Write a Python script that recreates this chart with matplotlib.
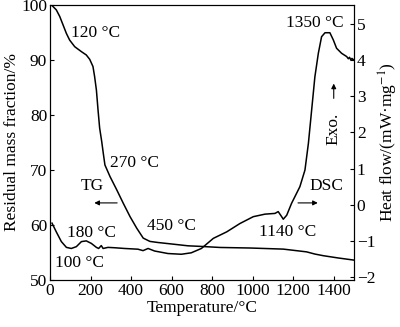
import matplotlib.pyplot as plt
import numpy as np

plt.rcParams['font.family'] = ['Liberation Serif', 'DejaVu Serif']
plt.rcParams['mathtext.fontset'] = 'stix'

# TG curve: temperature (°C) vs residual mass (%)
tg_temp = [0, 7, 31, 48, 64, 81, 97, 122, 155, 179, 196, 212, 220, 229, 237, 245, 255,
           263, 271, 296, 329, 362, 395, 428, 460, 493, 533, 608, 681, 740, 839, 987,
           1151, 1266, 1307, 1349, 1420, 1500]
tg_mass = [100, 100, 99.1, 97.9, 96.4, 94.8, 93.6, 92.4, 91.5, 90.9, 90.1, 88.8, 87.0,
           84.5, 80.9, 77.6, 75.2, 73.0, 70.9, 68.8, 66.4, 63.9, 61.5, 59.4, 57.6, 57.0,
           56.8, 56.5, 56.2, 56.1, 55.9, 55.8, 55.6, 55.1, 54.7, 54.4, 54.0, 53.6]

# DSC curve: temperature (°C) vs heat flow (mW/mg)
dsc_temp = [10, 31, 56, 81, 105, 130, 155, 179, 204, 229, 240, 253, 262, 270, 286, 319,
            368, 434, 459, 484, 516, 582, 648, 697, 747, 806, 872, 937, 1003, 1061, 1110,
            1126, 1143, 1151, 1168, 1192, 1217, 1233, 1258, 1275, 1291, 1307, 1324, 1340,
            1357, 1381, 1398, 1414, 1439, 1464, 1472, 1478, 1484, 1490, 1497, 1500]
dsc_flow = [-0.51, -0.75, -1.02, -1.18, -1.21, -1.16, -1.02, -1.00, -1.07, -1.18, -1.21,
            -1.13, -1.21, -1.20, -1.18, -1.19, -1.21, -1.23, -1.27, -1.21, -1.28, -1.35,
            -1.37, -1.33, -1.21, -0.93, -0.75, -0.52, -0.33, -0.26, -0.24, -0.19, -0.33,
            -0.40, -0.29, 0.04, 0.32, 0.50, 0.96, 1.70, 2.62, 3.54, 4.19, 4.65, 4.76, 4.76,
            4.56, 4.33, 4.19, 4.10, 4.04, 4.08, 4.01, 4.05, 4.00, 4.02]

fig = plt.figure(figsize=(4, 3.27), dpi=100)
ax = fig.add_axes([0.125, 0.144, 0.76, 0.841])
ax.plot(tg_temp, tg_mass, color='black', lw=1.1)
ax.set_xlim(0, 1500)
ax.set_ylim(50, 100)
ax.set_xticks(np.arange(0, 1500, 200))
ax.set_yticks(np.arange(50, 101, 10))
ax.tick_params(direction='in', labelsize=12.5, length=3, top=False, pad=2)
ax.set_xlabel('Temperature/°C', fontsize=12.5, labelpad=1)
ax.set_ylabel('Residual mass fraction/%', fontsize=12.5, labelpad=1)

ax2 = ax.twinx()
ax2.plot(dsc_temp, dsc_flow, color='black', lw=1.1)
ax2.set_ylim(-2.08, 5.53)
ax2.set_yticks(np.arange(-2, 6, 1))
ax2.set_yticklabels(['\u22122', '\u22121', '0', '1', '2', '3', '4', '5'])
ax2.tick_params(direction='in', labelsize=12.5, length=3, pad=2)
ax2.set_ylabel('Heat flow/(mW\u00b7mg$^{-1}$)', fontsize=12.5, labelpad=1)

fs = 12.5
ax.text(105, 94.9, '120 °C', fontsize=fs, va='center')
ax.text(296, 71.2, '270 °C', fontsize=fs, va='center')
ax.text(480, 59.8, '450 °C', fontsize=fs, va='center')
ax.text(85, 58.5, '180 °C', fontsize=fs, va='center')
ax.text(25, 53.1, '100 °C', fontsize=fs, va='center')
ax.text(1030, 58.7, '1140 °C', fontsize=fs, va='center')
ax.text(1165, 96.7, '1350 °C', fontsize=fs, va='center')
ax.text(150, 67.0, 'TG', fontsize=fs, va='center')
ax.text(1280, 67.0, 'DSC', fontsize=fs, va='center')
ax.text(1400, 77.5, 'Exo.', fontsize=fs, va='center', ha='center', rotation=90)

arrow = dict(arrowstyle='-|>', color='black', lw=0.8, mutation_scale=7)
ax.annotate('', xy=(205, 64.0), xytext=(345, 64.0), arrowprops=arrow)
ax.annotate('', xy=(1335, 64.0), xytext=(1210, 64.0), arrowprops=arrow)
ax.annotate('', xy=(1400, 86.2), xytext=(1400, 82.5), arrowprops=arrow)

fig.savefig('out.png', dpi=100)
